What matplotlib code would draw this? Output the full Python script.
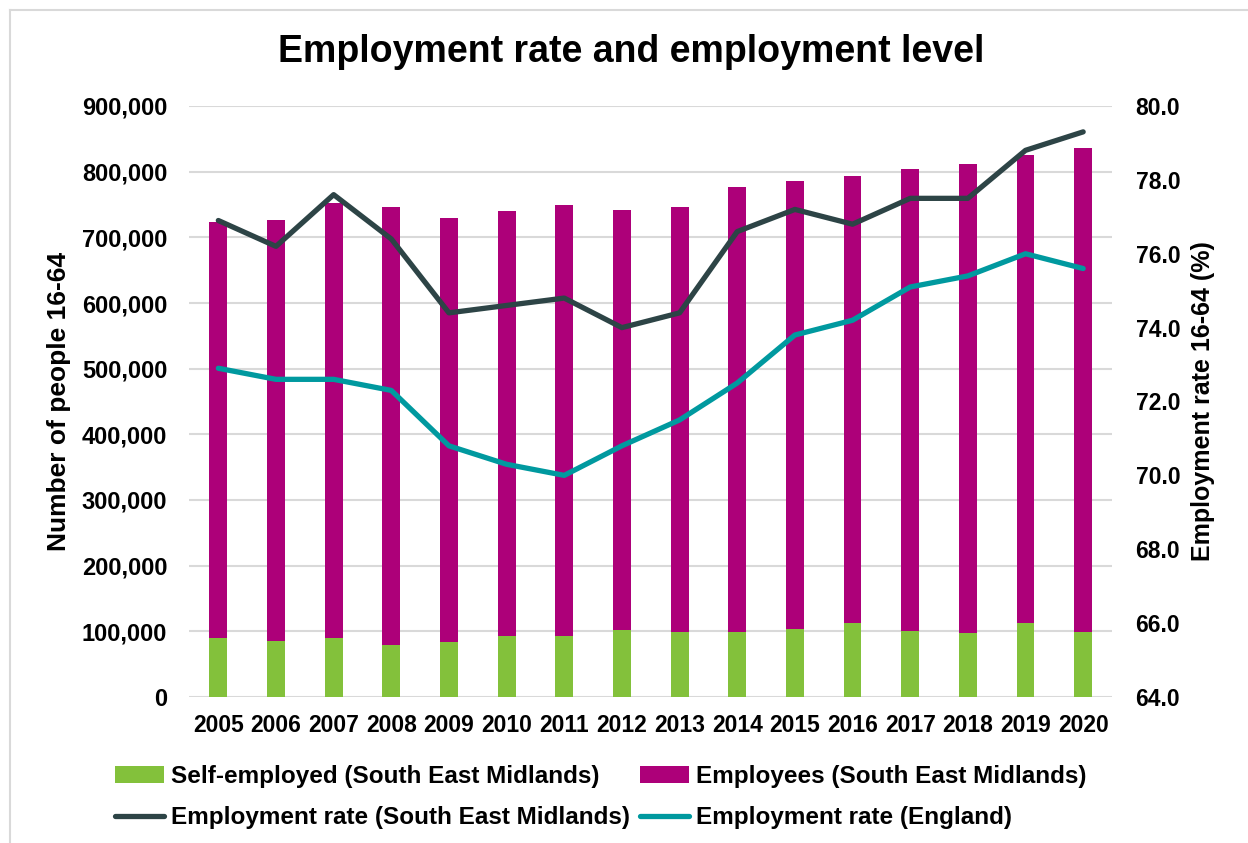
import matplotlib.pyplot as plt
from matplotlib.lines import Line2D
from matplotlib.ticker import FuncFormatter
import numpy as np

plt.rcParams['font.family'] = ['Liberation Sans', 'DejaVu Sans']
plt.rcParams['font.weight'] = 'bold'

years = ['2005', '2006', '2007', '2008', '2009', '2010', '2011', '2012',
         '2013', '2014', '2015', '2016', '2017', '2018', '2019', '2020']
self_employed = [90300, 84600, 89200, 79500, 84100, 92800, 93300, 102600,
                 99500, 98500, 103100, 113300, 100500, 98000, 112300, 99000]
employees = [632700, 642400, 663500, 667100, 645900, 646700, 655700, 639000,
             646200, 678500, 682900, 679700, 703000, 713000, 713500, 736500]
rate_sem = [76.9, 76.2, 77.6, 76.4, 74.4, 74.6, 74.8, 74.0,
            74.4, 76.6, 77.2, 76.8, 77.5, 77.5, 78.8, 79.3]
rate_eng = [72.9, 72.6, 72.6, 72.3, 70.8, 70.3, 70.0, 70.8,
            71.5, 72.5, 73.8, 74.2, 75.1, 75.4, 76.0, 75.6]

green = '#83c13b'
magenta = '#ad0079'
dark = '#2d4446'
teal = '#00999f'

fig = plt.figure(figsize=(12.48, 8.43), dpi=100)
ax = fig.add_axes([189.5/1248, 1-697/843, (1112-189.5)/1248, (697-106)/843])
x = np.arange(len(years))

b1 = ax.bar(x, self_employed, width=0.31, color=green, zorder=2)
b2 = ax.bar(x, employees, width=0.31, bottom=self_employed, color=magenta, zorder=2)
ax.set_ylim(0, 900000)
ax.set_xlim(-0.5, len(years) - 0.5)
ax.set_yticks(np.arange(0, 900001, 100000))
ax.yaxis.set_major_formatter(FuncFormatter(lambda v, p: f'{int(v):,}'))
ax.set_xticks(x)
ax.set_xticklabels(years)
ax.grid(axis='y', color='#d9d9d9', linewidth=1.5, zorder=0)
for s in ax.spines.values():
    s.set_visible(False)
ax.tick_params(axis='y', length=0, labelsize=17, pad=16)
ax.tick_params(axis='x', length=0, labelsize=16.5, pad=12)
ax.set_ylabel('Number of people 16-64', fontsize=19, fontweight='bold', labelpad=8)

ax2 = ax.twinx()
l1, = ax2.plot(x, rate_sem, color=dark, linewidth=3.8, solid_capstyle='round', zorder=3)
l2, = ax2.plot(x, rate_eng, color=teal, linewidth=3.8, solid_capstyle='round', zorder=3)
ax2.set_ylim(64, 80)
ax2.set_yticks(np.arange(64, 80.1, 2))
ax2.yaxis.set_major_formatter(FuncFormatter(lambda v, p: f'{v:.1f}'))
for s in ax2.spines.values():
    s.set_visible(False)
ax2.tick_params(axis='y', length=0, labelsize=16.5, pad=17)
ax2.set_ylabel('Employment rate 16-64 (%)', fontsize=18, fontweight='bold', labelpad=8)

fig.text(631/1248, 1-52/843, 'Employment rate and employment level',
         ha='center', va='center', fontsize=27, fontweight='bold')

handles = [b1, l1, b2, l2]
labels = ['Self-employed (South East Midlands)', 'Employment rate (South East Midlands)',
          'Employees (South East Midlands)', 'Employment rate (England)']
fig.legend(handles, labels, ncol=2, loc='center', bbox_to_anchor=(601/1248, 1-797/843),
           frameon=False, fontsize=17.5, handlelength=2.0, handletextpad=0.3,
           columnspacing=0.4, labelspacing=0.75)

fig.add_artist(Line2D([10/1248, 10/1248], [0, 1-10/843], color='#d9d9d9', linewidth=1.5))
fig.add_artist(Line2D([10/1248, 1], [1-10/843, 1-10/843], color='#d9d9d9', linewidth=1.5))

fig.savefig('out.png', dpi=100)
